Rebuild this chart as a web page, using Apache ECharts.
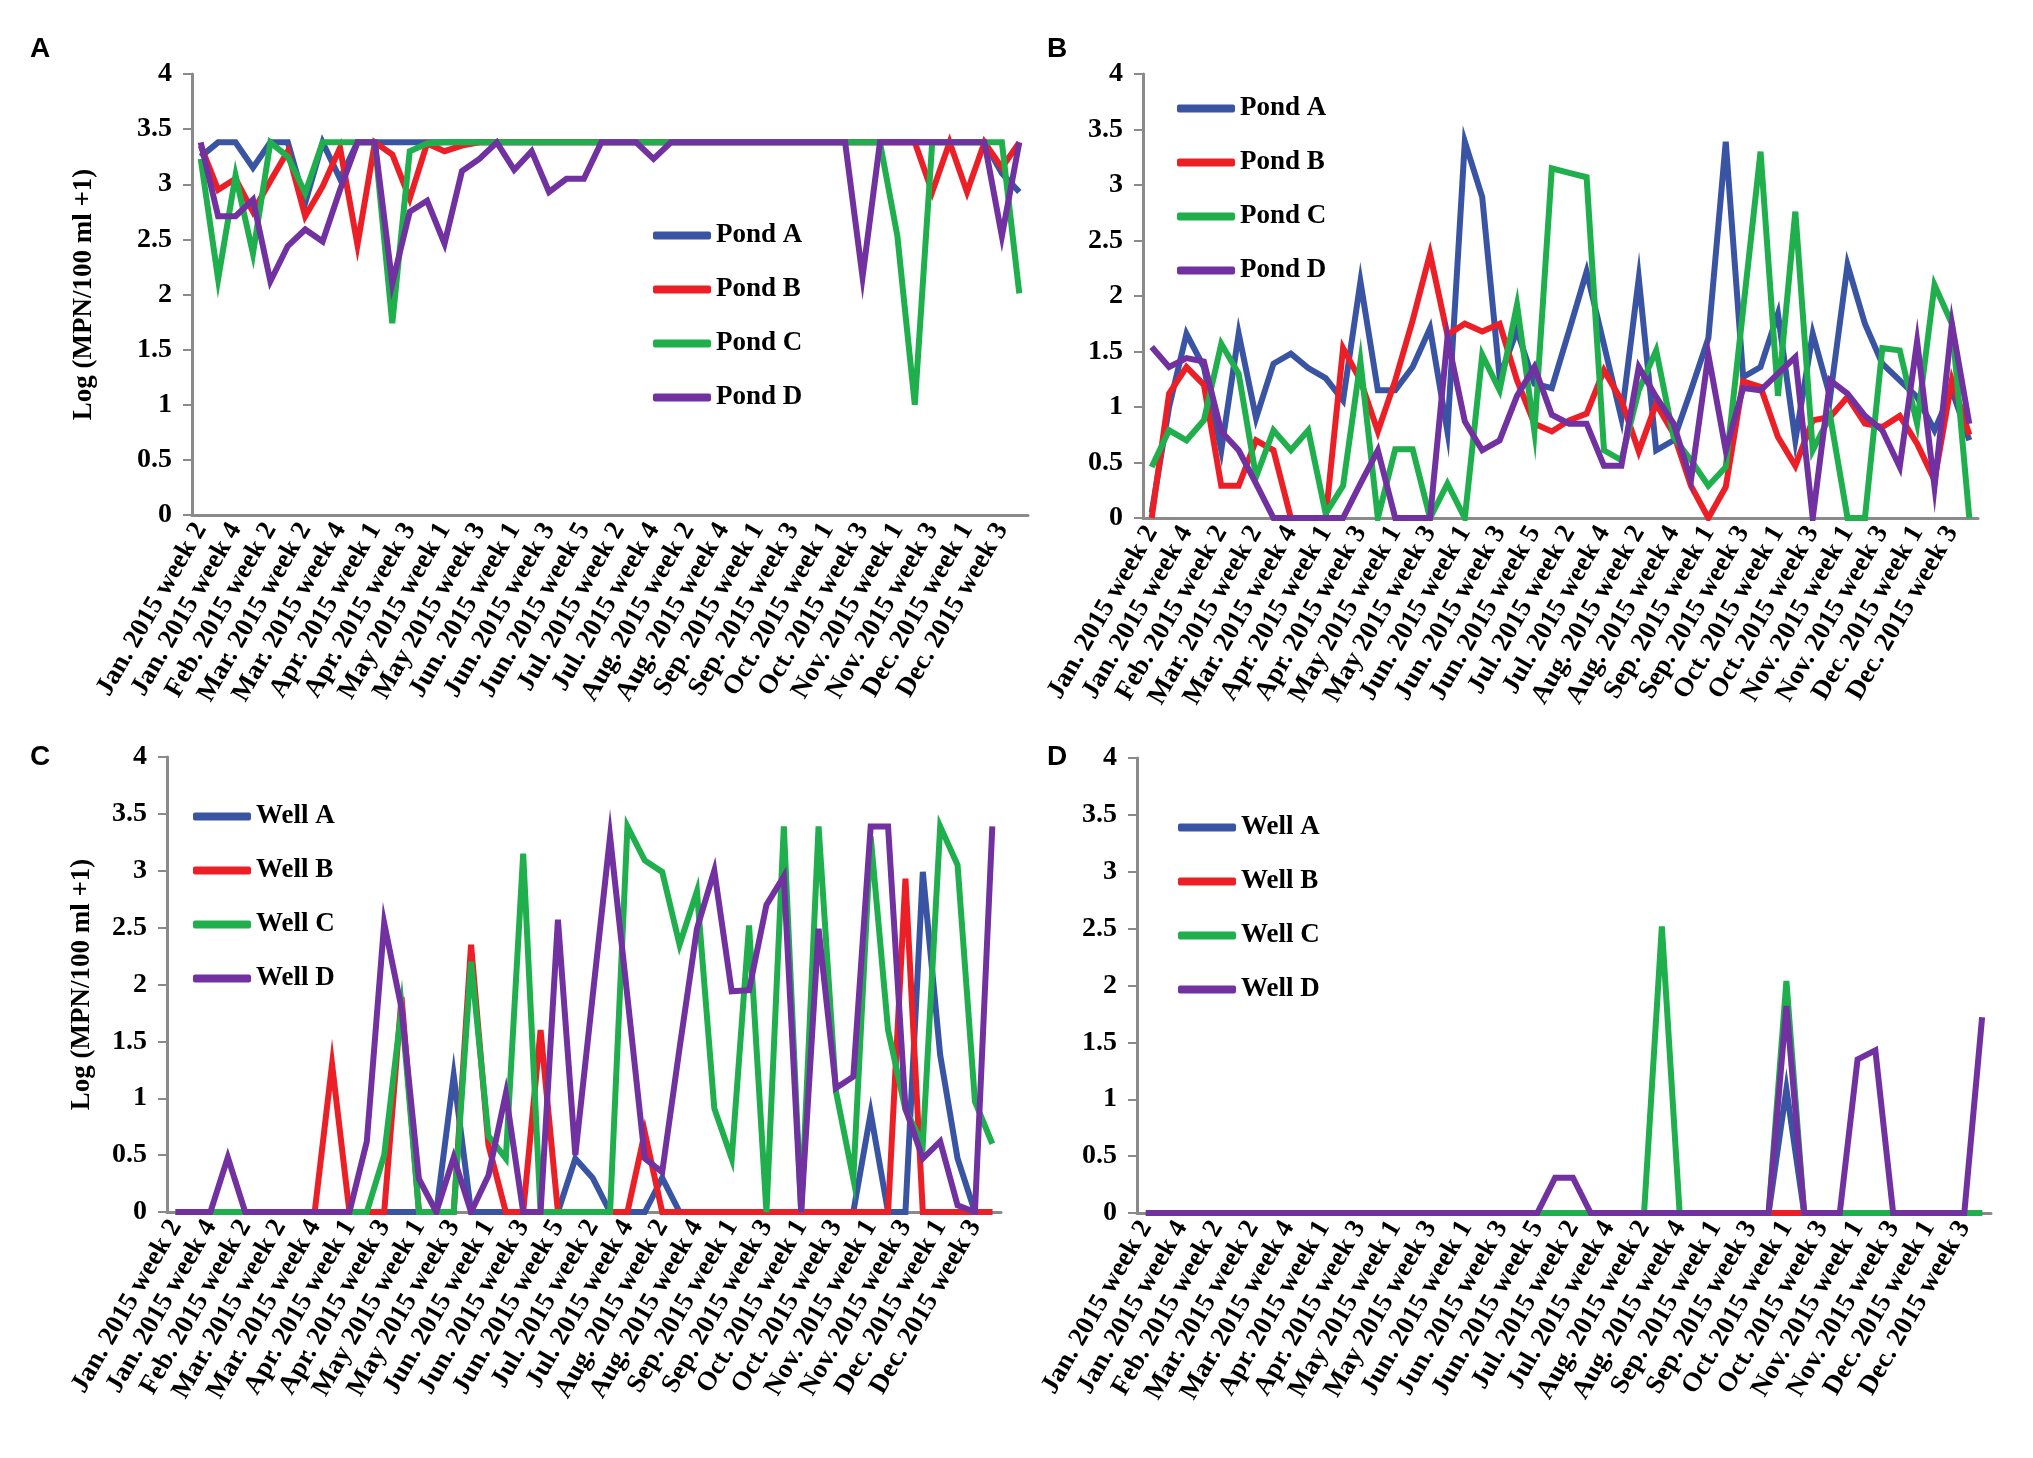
<!DOCTYPE html>
<html>
<head>
<meta charset="utf-8">
<script src="https://cdn.jsdelivr.net/npm/echarts@6/dist/echarts.min.js"></script>
<style>
  html, body { margin: 0; padding: 0; background: #fff; }
  #chart-container { width: 2033px; height: 1458px; }
</style>
</head>
<body>
<div id="chart-container"></div>
<script>
// sampling weeks (every other one is labelled on the axis)
var weeks = [
  'Jan. 2015 week 2', 'Jan. 2015 week 3', 'Jan. 2015 week 4', 'Feb. 2015 week 1',
  'Feb. 2015 week 2', 'Feb. 2015 week 4', 'Mar. 2015 week 2', 'Mar. 2015 week 3',
  'Mar. 2015 week 4', 'Mar. 2015 week 5', 'Apr. 2015 week 1', 'Apr. 2015 week 2',
  'Apr. 2015 week 3', 'Apr. 2015 week 4', 'May 2015 week 1', 'May 2015 week 2',
  'May 2015 week 3', 'May 2015 week 4', 'Jun. 2015 week 1', 'Jun. 2015 week 2',
  'Jun. 2015 week 3', 'Jun. 2015 week 4', 'Jun. 2015 week 5', 'Jul. 2015 week 1',
  'Jul. 2015 week 2', 'Jul. 2015 week 3', 'Jul. 2015 week 4', 'Aug. 2015 week 1',
  'Aug. 2015 week 2', 'Aug. 2015 week 3', 'Aug. 2015 week 4', 'Aug. 2015 week 5',
  'Sep. 2015 week 1', 'Sep. 2015 week 2', 'Sep. 2015 week 3', 'Sep. 2015 week 4',
  'Oct. 2015 week 1', 'Oct. 2015 week 2', 'Oct. 2015 week 3', 'Oct. 2015 week 4',
  'Nov. 2015 week 1', 'Nov. 2015 week 2', 'Nov. 2015 week 3', 'Nov. 2015 week 4',
  'Dec. 2015 week 1', 'Dec. 2015 week 2', 'Dec. 2015 week 3', 'Dec. 2015 week 4'
];

var yTicks = [0, 0.5, 1, 1.5, 2, 2.5, 3, 3.5, 4];

// panel A
var aPondA = [3.25,3.38,3.38,3.15,3.38,3.38,2.83,3.38,3.05,3.38, 3.38,3.38,3.38,3.38,3.38,3.38,3.38,3.38,3.38,3.38,
  3.38,3.38,3.38,3.38,3.38,3.38,3.38,3.38,3.38,3.38, 3.38,3.38,3.38,3.38,3.38,3.38,3.38,3.38,3.38,3.38,
  3.38,3.38,3.38,3.38,3.38,3.38,3.1,2.93];
var aPondB = [3.35,2.95,3.05,2.75,3.03,3.3,2.71,2.98,3.33,2.45, 3.38,3.27,2.87,3.37,3.3,3.35,3.38,3.38,3.38,3.38,
  3.38,3.38,3.38,3.38,3.38,3.38,3.38,3.38,3.38,3.38, 3.38,3.38,3.38,3.38,3.38,3.38,3.38,3.38,3.38,3.38,
  3.38,3.38,2.93,3.38,2.93,3.38,3.15,3.38];
var aPondC = [3.23,2.14,3.08,2.37,3.38,3.25,2.92,3.38,3.38,3.38, 3.38,1.74,3.3,3.37,3.38,3.38,3.38,3.38,3.38,3.38,
  3.38,3.38,3.38,3.38,3.38,3.38,3.38,3.38,3.38,3.38, 3.38,3.38,3.38,3.38,3.38,3.38,3.38,3.38,3.38,3.38,
  2.53,1.0,3.38,3.38,3.38,3.38,3.38,2.01];
var aPondD = [3.38,2.71,2.71,2.86,2.12,2.44,2.59,2.48,2.95,3.38, 3.38,2.1,2.75,2.85,2.46,3.12,3.23,3.38,3.13,3.3,
  2.93,3.05,3.05,3.38,3.38,3.38,3.23,3.38,3.38,3.38, 3.38,3.38,3.38,3.38,3.38,3.38,3.38,3.38,2.16,3.38,
  3.38,3.38,3.38,3.38,3.38,3.38,2.53,3.38];

// panel B
var bPondA = [0.05,1.0,1.66,1.36,0.61,1.66,0.9,1.39,1.48,1.35, 1.26,1.06,2.13,1.15,1.15,1.36,1.71,0.78,3.39,2.89,
  1.27,1.69,1.21,1.17,1.69,2.22,1.56,0.9,2.16,0.61, 0.7,1.15,1.62,3.39,1.27,1.36,1.84,0.7,1.66,1.09,
  2.28,1.75,1.39,1.24,1.09,0.79,1.15,0.7];
var bPondB = [0,1.12,1.36,1.2,0.29,0.29,0.7,0.61,0,0, 0,1.53,1.24,0.78,1.24,1.78,2.38,1.65,1.75,1.68,
  1.75,1.24,0.85,0.78,0.88,0.94,1.33,1.06,0.6,1.03, 0.76,0.29,0,0.28,1.23,1.18,0.73,0.47,0.88,0.91,
  1.09,0.85,0.82,0.92,0.67,0.34,1.24,0.75];
var bPondC = [0.46,0.79,0.7,0.88,1.57,1.3,0.37,0.79,0.61,0.79, 0.04,0.29,1.41,0,0.62,0.62,0,0.31,0,1.47,
  1.15,1.92,0.78,3.15,3.11,3.07,0.61,0.52,1.15,1.51, 0.73,0.52,0.29,0.46,1.88,3.3,1.1,2.76,0.61,0.92,
  0,0,1.53,1.51,0.85,2.1,1.75,0];
var bPondD = [1.54,1.36,1.44,1.41,0.78,0.61,0.31,0,0,0, 0,0,0.31,0.61,0,0,0,1.62,0.87,0.61,
  0.7,1.1,1.36,0.93,0.85,0.85,0.47,0.47,1.36,1.09, 0.85,0.34,1.47,0.61,1.17,1.15,1.3,1.45,0,1.24,
  1.12,0.92,0.79,0.46,1.59,0.28,1.75,0.85];

// panel C
var cWellA = [0,0,0,0,0,0,0,0,0,0, 0,0,0,0,0,0,1.2,0,0,0,
  0,0,0,0.47,0.3,0,0,0,0.3,0, 0,0,0,0,0,0,0,0,0,0,
  0.87,0,0,2.99,1.38,0.47,0,0];
var cWellB = [0,0,0,0,0,0,0,0,0,1.3, 0,0,0,1.89,0,0,0,2.35,0.59,0,
  0,1.6,0,0,0,0,0,0.7,0,0, 0,0,0,0,0,0,0,0,0,0,
  0,0,2.93,0,0,0,0,0];
var cWellC = [0,0,0,0,0,0,0,0,0,0, 0,0,0.5,1.79,0,0,0,2.2,0.67,0.47,
  3.15,0,0,0,0,0,3.39,3.09,2.99,2.35, 2.82,0.91,0.47,2.52,0,3.39,0,3.39,1.06,0.29,
  3.3,1.6,0.9,0.6,3.39,3.05,0.97,0.6];
var cWellD = [0,0,0,0.48,0,0,0,0,0,0, 0,0.62,2.54,1.79,0.29,0,0.48,0,0.32,1.04,
  0,0,2.57,0.5,1.9,3.3,1.89,0.47,0.35,1.44, 2.49,3.0,1.94,1.95,2.7,2.95,0,2.49,1.09,1.19,
  3.39,3.39,0.91,0.47,0.62,0.06,0,3.39];

// panel D
var dWellA = [0,0,0,0,0,0,0,0,0,0, 0,0,0,0,0,0,0,0,0,0,
  0,0,0,0,0,0,0,0,0,0, 0,0,0,0,0,0,1.09,0,0,0,
  0,0,0,0,0,0,0,0];
var dWellB = [0,0,0,0,0,0,0,0,0,0, 0,0,0,0,0,0,0,0,0,0,
  0,0,0,0,0,0,0,0,0,0, 0,0,0,0,0,0,0,0,0,0,
  0,0,0,0,0,0,0,0];
var dWellC = [0,0,0,0,0,0,0,0,0,0, 0,0,0,0,0,0,0,0,0,0,
  0,0,0,0,0,0,0,0,0,2.52, 0,0,0,0,0,0,2.04,0,0,0,
  0,0,0,0,0,0,0,0];
var dWellD = [0,0,0,0,0,0,0,0,0,0, 0,0,0,0,0,0,0,0,0,0,
  0,0,0,0.31,0.31,0,0,0,0,0, 0,0,0,0,0,0,1.82,0,0,0,
  1.35,1.43,0,0,0,0,0,1.72];

var pondNames = ['Pond A', 'Pond B', 'Pond C', 'Pond D'];
var wellNames = ['Well A', 'Well B', 'Well C', 'Well D'];
var colors = ['#3a54a4', '#ec1f26', '#1faf4c', '#7131a0'];

var serif = '"Liberation Serif", "Times New Roman", serif';
var axisGray = '#8a8a8a';

var dom = document.getElementById('chart-container');
var myChart = echarts.init(dom, null, { renderer: 'canvas' });

function makeX(gridIndex) {
  return {
    type: 'category',
    gridIndex: gridIndex,
    data: weeks,
    boundaryGap: true,
    axisLine: { lineStyle: { color: axisGray, width: 3 } },
    axisTick: { interval: 0, length: 8, lineStyle: { color: axisGray, width: 2 } },
    axisLabel: {
      interval: 1,
      rotate: 60,
      margin: 10,
      color: '#000',
      fontFamily: serif,
      fontWeight: 'bold',
      fontSize: 27
    },
    splitLine: { show: false }
  };
}

function makeY(gridIndex, withName, gap) {
  return {
    type: 'value',
    gridIndex: gridIndex,
    min: yTicks[0],
    max: yTicks[yTicks.length - 1],
    interval: 0.5,
    name: withName ? 'Log (MPN/100 ml +1)' : '',
    nameLocation: 'middle',
    nameRotate: 90,
    nameGap: gap,
    nameTextStyle: { color: '#000', fontFamily: serif, fontWeight: 'bold', fontSize: 27 },
    axisLine: { show: true, lineStyle: { color: axisGray, width: 3 } },
    axisTick: { show: true, length: 9, lineStyle: { color: axisGray, width: 2 } },
    axisLabel: {
      margin: 20,
      color: '#000',
      fontFamily: serif,
      fontWeight: 'bold',
      fontSize: 28
    },
    splitLine: { show: false }
  };
}

function makeSeries(name, data, idx, color) {
  return {
    name: name,
    type: 'line',
    xAxisIndex: idx,
    yAxisIndex: idx,
    data: data,
    symbol: 'none',
    animation: false,
    lineStyle: { color: color, width: 6, join: 'miter' },
    itemStyle: { color: color }
  };
}

function makeLegend(names, left, top) {
  return {
    data: names,
    orient: 'vertical',
    left: left,
    top: top,
    icon: 'roundRect',
    itemWidth: 58,
    itemHeight: 8,
    itemGap: 27,
    textStyle: { color: '#000', fontFamily: serif, fontWeight: 'bold', fontSize: 27, lineHeight: 27 }
  };
}

function letter(text, x, y) {
  return {
    type: 'text',
    left: x,
    top: y,
    style: { text: text, fill: '#000', font: 'bold 28px "Liberation Sans", Arial, sans-serif' }
  };
}

var series = [];
var panels = [
  [aPondA, aPondB, aPondC, aPondD],
  [bPondA, bPondB, bPondC, bPondD],
  [cWellA, cWellB, cWellC, cWellD],
  [dWellA, dWellB, dWellC, dWellD]
];
panels.forEach(function (sets, p) {
  var names = p < 2 ? pondNames : wellNames;
  sets.forEach(function (d, k) {
    series.push(makeSeries(names[k], d, p, colors[k]));
  });
});

var option = {
  backgroundColor: '#fff',
  animation: false,
  grid: [
    { left: 192, top: 74, width: 836, height: 441 },
    { left: 1143, top: 74, width: 835, height: 444 },
    { left: 167, top: 757, width: 834, height: 455 },
    { left: 1137, top: 758, width: 854, height: 455 }
  ],
  xAxis: [makeX(0), makeX(1), makeX(2), makeX(3)],
  yAxis: [makeY(0, true, 94), makeY(1, false, 0), makeY(2, true, 71), makeY(3, false, 0)],
  legend: [
    makeLegend(pondNames, 648, 217),
    makeLegend(pondNames, 1172, 90),
    makeLegend(wellNames, 188, 798),
    makeLegend(wellNames, 1173, 809)
  ],
  graphic: [
    letter('A', 30, 35),
    letter('B', 1047, 35),
    letter('C', 30, 743),
    letter('D', 1047, 743)
  ],
  series: series
};

myChart.setOption(option);
window.addEventListener('resize', myChart.resize);
</script>
</body>
</html>
